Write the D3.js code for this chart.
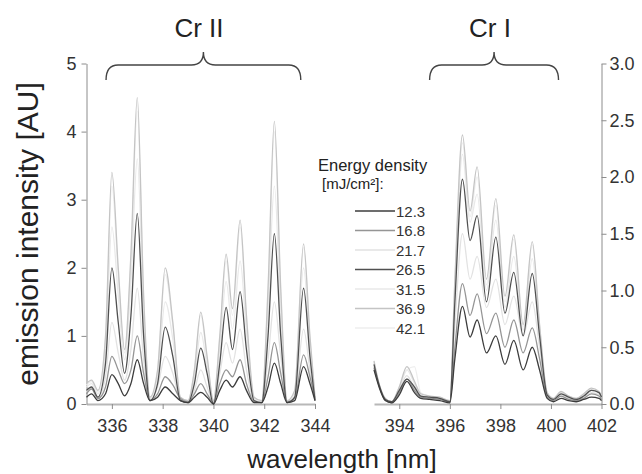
<!DOCTYPE html>
<html>
<head>
<meta charset="utf-8">
<script src="https://cdn.jsdelivr.net/npm/d3@7"></script>
<style>
body{margin:0;background:#fff;}
svg{display:block;font-family:"Liberation Sans",Arial,Helvetica,sans-serif;}
.axis path,.axis line{stroke:#8c8c8c;}
.axis text{fill:#333;font-size:18px;font-family:"Liberation Sans",Arial,sans-serif;}
</style>
</head>
<body>
<svg class="chart"></svg>
<script>
// energy densities [mJ/cm2] and the colours of their lines
const energies = ["12.3","16.8","21.7","26.5","31.5","36.9","42.1"]
const lineColors = {"12.3":"#3c3c3c","16.8":"#959595","21.7":"#e2e2e2","26.5":"#505050","31.5":"#e9e9e9","36.9":"#c4c4c4","42.1":"#eeeeee"}
const drawOrder = ["42.1","31.5","21.7","36.9","16.8","26.5","12.3"]//light ones underneath

// Cr II window (left panel, AU 0-5)
const wlII = [335.0,335.2,335.45,335.75,336.0,336.25,336.5,336.75,337.0,337.25,337.5,337.8,338.1,338.4,338.7,339.0,339.25,339.5,339.75,340.0,340.25,340.5,340.75,341.05,341.3,341.6,341.9,342.15,342.4,342.65,342.9,343.2,343.55,343.8,344.0]
const crII_123 = [0.10,0.15,0.05,0.15,0.43,0.30,0.12,0.30,0.65,0.30,0.05,0.10,0.25,0.15,0.05,0.02,0.10,0.17,0.10,0.00,0.20,0.35,0.25,0.40,0.20,0.02,0.02,0.25,0.60,0.30,0.02,0.05,0.55,0.30,0.05]
const crII_168 = [0.15,0.22,0.08,0.25,0.70,0.50,0.30,0.50,1.00,0.45,0.05,0.15,0.40,0.28,0.08,0.03,0.15,0.30,0.15,0.02,0.30,0.50,0.40,0.65,0.30,0.03,0.02,0.40,0.90,0.45,0.03,0.08,0.72,0.40,0.08]
const crII_217 = [0.18,0.24,0.10,0.40,1.20,0.75,0.35,0.80,1.70,0.65,0.06,0.25,0.70,0.45,0.06,0.03,0.20,0.50,0.25,0.02,0.45,0.90,0.60,1.10,0.50,0.04,0.02,0.65,1.50,0.70,0.03,0.10,1.10,0.50,0.06]
const crII_265 = [0.20,0.25,0.10,0.60,2.00,1.20,0.45,1.30,2.80,1.00,0.05,0.30,1.13,0.70,0.05,0.02,0.30,0.82,0.45,0.00,0.60,1.42,0.80,1.65,0.80,0.05,0.02,1.00,2.50,1.00,0.02,0.10,1.70,0.70,0.05]
const crII_315 = [0.25,0.30,0.15,0.80,2.60,1.60,0.65,1.80,3.60,1.30,0.08,0.40,1.50,0.95,0.08,0.04,0.40,1.05,0.55,0.03,0.80,1.80,1.10,2.10,1.05,0.06,0.03,1.35,3.20,1.30,0.04,0.15,2.00,0.85,0.08]
const crII_369 = [0.30,0.35,0.20,1.00,3.40,2.00,0.80,2.20,4.50,1.60,0.10,0.50,2.00,1.20,0.10,0.05,0.50,1.35,0.70,0.05,1.00,2.20,1.40,2.70,1.30,0.10,0.05,1.70,4.15,1.70,0.05,0.20,2.35,1.00,0.10]
const crII_421 = [0.28,0.33,0.18,0.95,3.20,1.90,0.75,2.10,4.30,1.50,0.09,0.48,1.90,1.15,0.09,0.05,0.48,1.30,0.65,0.04,0.95,2.10,1.30,2.60,1.25,0.08,0.04,1.60,4.00,1.60,0.05,0.18,2.30,0.95,0.09]

// Cr I window (right panel, AU 0-3)
const wlI = [393.0,393.2,393.45,393.7,394.0,394.3,394.6,394.85,395.2,395.6,396.0,396.2,396.5,396.8,397.08,397.45,397.82,398.18,398.53,398.9,399.26,399.55,399.85,400.1,400.4,400.7,401.0,401.3,401.6,401.9,402.0]
const crI_123 = [0.30,0.15,0.03,0.01,0.08,0.20,0.10,0.05,0.04,0.03,0.01,0.40,0.86,0.59,0.74,0.45,0.60,0.35,0.56,0.30,0.50,0.30,0.05,0.02,0.05,0.03,0.02,0.04,0.06,0.05,0.03]
const crI_168 = [0.32,0.16,0.03,0.01,0.10,0.22,0.12,0.06,0.05,0.04,0.02,0.50,1.06,0.78,0.97,0.62,0.80,0.50,0.74,0.45,0.67,0.40,0.06,0.03,0.07,0.04,0.03,0.05,0.09,0.07,0.04]
const crI_217 = [0.33,0.16,0.04,0.01,0.12,0.25,0.14,0.07,0.05,0.04,0.02,0.70,1.50,1.10,1.30,0.85,1.10,0.70,0.95,0.60,0.90,0.50,0.07,0.03,0.08,0.05,0.03,0.06,0.10,0.08,0.05]
const crI_265 = [0.35,0.17,0.04,0.02,0.12,0.22,0.15,0.07,0.06,0.05,0.02,0.90,1.98,1.44,1.66,0.90,1.47,0.80,1.16,0.60,1.15,0.60,0.08,0.04,0.09,0.06,0.04,0.07,0.12,0.10,0.06]
const crI_315 = [0.36,0.17,0.04,0.02,0.14,0.30,0.18,0.08,0.06,0.05,0.02,1.00,2.20,1.60,1.85,1.00,1.62,0.85,1.30,0.65,1.28,0.65,0.09,0.04,0.10,0.06,0.04,0.08,0.13,0.10,0.07]
const crI_369 = [0.38,0.18,0.05,0.02,0.15,0.33,0.20,0.09,0.07,0.06,0.03,1.10,2.37,1.70,2.09,1.10,1.81,0.95,1.49,0.70,1.43,0.70,0.10,0.05,0.11,0.07,0.05,0.09,0.14,0.11,0.07]
const crI_421 = [0.37,0.18,0.05,0.02,0.15,0.30,0.33,0.10,0.07,0.06,0.03,1.05,2.30,1.65,2.00,1.05,1.75,0.90,1.45,0.68,1.40,0.68,0.10,0.05,0.10,0.07,0.05,0.09,0.13,0.10,0.07]

// ticks and the wavelength spans of the braces
const xTicksII = [336,338,340,342,344]
const xTicksI = [394,396,398,400,402]
const yTicksII = [0,1,2,3,4,5]
const yTicksI = [0,0.5,1,1.5,2,2.5,3]
const braceII = [335.77,343.44]
const braceI = [395.2,400.3]

const seriesII = {"12.3":crII_123,"16.8":crII_168,"21.7":crII_217,"26.5":crII_265,"31.5":crII_315,"36.9":crII_369,"42.1":crII_421}
const seriesI = {"12.3":crI_123,"16.8":crI_168,"21.7":crI_217,"26.5":crI_265,"31.5":crI_315,"36.9":crI_369,"42.1":crI_421}

const width = 642, height = 474
const plotTop = 63.5, plotBottom = 404

let xII = d3.scaleLinear().domain([335,344]).range([86.5,315])
let xI = d3.scaleLinear().domain([393,402]).range([374,601.5])
let yII = d3.scaleLinear().domain([0,5]).range([plotBottom,plotTop])
let yI = d3.scaleLinear().domain([0,3]).range([plotBottom,plotTop])

let svg = d3.select(".chart")
    .attr("width", width)
    .attr("height", height)

// x axes (major even nm, minor odd nm)
function xAxisFor(x, ticks){
  let g = svg.append("g")
      .attr("class","axis")
      .attr("transform","translate(0,"+plotBottom+")")
  g.call(d3.axisBottom(x).tickValues(d3.range(x.domain()[0]+1, x.domain()[1], 2)).tickSize(3).tickFormat(""))
  g.call(d3.axisBottom(x).tickValues(ticks).tickSize(5).tickSizeOuter(0).tickPadding(10).tickFormat(d3.format("d")))
  g.select(".domain").style("stroke","#b8b8b8").style("stroke-width",2)
}
xAxisFor(xII, xTicksII)
xAxisFor(xI, xTicksI)

// left y axis
let gl = svg.append("g").attr("class","axis").attr("transform","translate(86.5,0)")
gl.call(d3.axisLeft(yII).tickValues(d3.range(0.5,5,1)).tickSize(4).tickFormat(""))
gl.call(d3.axisLeft(yII).tickValues(yTicksII).tickSize(5).tickSizeOuter(0).tickPadding(5).tickFormat(d3.format("d")))

// right y axis
let gr = svg.append("g").attr("class","axis").attr("transform","translate(601.5,0)")
gr.call(d3.axisRight(yI).tickValues(d3.range(0.25,3,0.5)).tickSize(4).tickFormat(""))
gr.call(d3.axisRight(yI).tickValues(yTicksI).tickSize(5).tickSizeOuter(0).tickPadding(3).tickFormat(d3.format(".1f")))

// spectra
function drawPanel(wl, series, x, y){
  let line = d3.line()
      .x(function(d,i){ return x(wl[i]) })
      .y(function(d){ return y(d) })
      .curve(d3.curveMonotoneX)
  drawOrder.forEach(function(e){
    svg.append("path")
        .attr("d", line(series[e]))
        .attr("fill","none")
        .attr("stroke", lineColors[e])
        .attr("stroke-width",1.3)
        .attr("stroke-linejoin","round")
  })
}
drawPanel(wlII, seriesII, xII, yII)
drawPanel(wlI, seriesI, xI, yI)

// curly braces over the line groups
function brace(x, span, label, labelX){
  let x1 = x(span[0]), x2 = x(span[1]), xm = (x1+x2)/2
  let yEnd = 80, yBar = 65, yTip = 52, r = 12
  let p = d3.path()
  p.moveTo(x1, yEnd)
  p.quadraticCurveTo(x1, yBar, x1+r, yBar)
  p.lineTo(xm-r, yBar)
  p.quadraticCurveTo(xm, yBar, xm, yTip)
  p.quadraticCurveTo(xm, yBar, xm+r, yBar)
  p.lineTo(x2-r, yBar)
  p.quadraticCurveTo(x2, yBar, x2, yEnd)
  svg.append("path")
      .attr("d", p.toString())
      .attr("fill","none")
      .attr("stroke","#444")
      .attr("stroke-width",1.4)
  svg.append("text")
      .attr("x", labelX)
      .attr("y", 37)
      .attr("text-anchor","middle")
      .style("font-size","26px")
      .style("fill","#222")
      .text(label)
}
brace(xII, braceII, "Cr II", 199)
brace(xI, braceI, "Cr I", 490)

// legend
let legend = svg.append("g")
legend.append("text").attr("x",318).attr("y",171).style("font-size","16.5px").style("fill","#222").text("Energy density")
legend.append("text").attr("x",322).attr("y",189).style("font-size","15px").style("fill","#222").text("[mJ/cm²]:")
energies.forEach(function(e,i){
  let yy = 211 + i*19.5
  legend.append("line")
      .attr("x1",355).attr("x2",395)
      .attr("y1",yy).attr("y2",yy)
      .attr("stroke", lineColors[e])
      .attr("stroke-width",1.3)
  legend.append("text")
      .attr("x",396).attr("y",yy+5.5)
      .style("font-size","15px")
      .style("fill","#333")
      .text(e)
})

// axis labels
svg.append("text")
    .attr("transform","rotate(-90)")
    .attr("x",-234)
    .attr("y",38)
    .attr("text-anchor","middle")
    .style("font-size","30px")
    .style("fill","#222")
    .text("emission intensity [AU]")
svg.append("text")
    .attr("x",342)
    .attr("y",468)
    .attr("text-anchor","middle")
    .style("font-size","26px")
    .style("fill","#222")
    .text("wavelength [nm]")
</script>
</body>
</html>
